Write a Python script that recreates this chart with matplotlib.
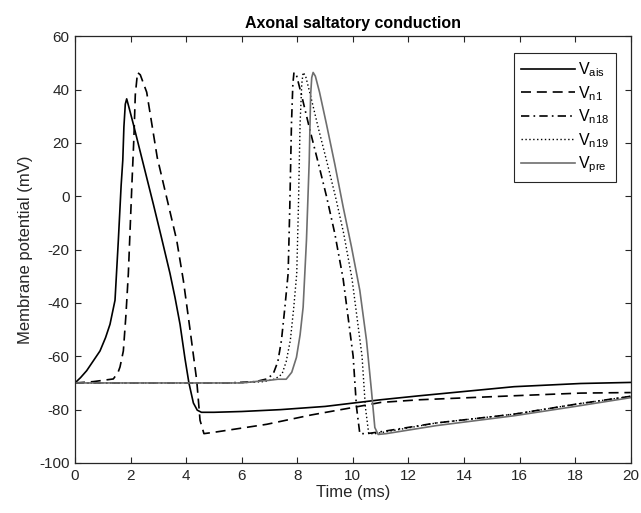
import matplotlib
matplotlib.use("Agg")
import matplotlib.pyplot as plt

plt.rcParams['font.family'] = ['Liberation Sans', 'DejaVu Sans']
plt.rcParams['mathtext.fontset'] = 'custom'
plt.rcParams['mathtext.rm'] = 'Liberation Sans'
plt.rcParams['mathtext.it'] = 'Liberation Sans'
plt.rcParams['axes.unicode_minus'] = False

# values (time in ms, potential in mV)
t_ais = [0, 0.2, 0.42, 0.66, 0.9, 1.1, 1.26, 1.44, 1.56, 1.66, 1.72, 1.76, 1.81, 1.86, 1.95,
         2.1, 2.34, 2.82, 3.1, 3.42, 3.6, 3.78, 3.96, 4.1, 4.26, 4.4, 4.55, 5.0, 6.0, 7.4,
         9.0, 11.0, 12.4, 14.0, 15.8, 18.2, 20]
v_ais = [-70, -68, -65.4, -61.7, -58, -53, -48, -39, -16.5, 4, 13.5, 26, 34.5, 36.5, 33,
         27, 17, -3, -15, -29, -38, -48, -61, -70, -77.5, -80.2, -81, -81, -80.7, -80,
         -78.8, -76.3, -74.8, -73.2, -71.4, -70.2, -69.8]

t_n1 = [0, 0.66, 1.38, 1.55, 1.62, 1.74, 1.83, 1.92, 2.05, 2.12, 2.17, 2.25, 2.35, 2.58,
        2.96, 3.66, 3.9, 4.14, 4.38, 4.5, 4.64, 5.0, 6.9, 8.5, 10.0, 11.0, 12.4, 15.8, 18.2, 20]
v_n1 = [-70, -69.5, -68.5, -66, -64, -58, -45, -29, 5, 22, 38, 46.4, 45.5, 39, 14.5,
        -16.5, -31.6, -50, -69, -84, -89, -88.5, -85.5, -82, -79.2, -77.3, -76.3,
        -74.8, -73.8, -73.6]

t_n18 = [0, 5.5, 6.5, 6.9, 7.13, 7.3, 7.43, 7.55, 7.67, 7.73, 7.79, 7.84, 7.88, 7.98, 8.15,
         8.45, 8.79, 9.05, 9.35, 9.65, 10.01, 10.13, 10.25, 10.5, 11.0, 13.0, 15.8, 18.0, 20]
v_n18 = [-70, -70, -69.5, -68.5, -66.7, -62, -54, -42, -29, -4, 27, 42, 46.4, 45, 38,
         25, 11, 0, -14, -31, -60, -79, -89, -89, -88.3, -85, -81.7, -78, -75]

t_n19 = [0, 5.8, 6.8, 7.2, 7.45, 7.6, 7.75, 7.87, 7.98, 8.04, 8.1, 8.16, 8.21, 8.3, 8.47,
         8.77, 9.11, 9.37, 9.67, 9.97, 10.33, 10.45, 10.57, 10.8, 11.2, 13.0, 15.8, 18.0, 20]
v_n19 = [-70, -70, -69.5, -68.5, -66.7, -62, -54, -42, -29, -4, 27, 42, 46.4, 45, 38,
         25, 11, 0, -14, -31, -60, -79, -89, -89, -88.3, -85, -81.7, -78, -75]

t_pre = [0, 6.0, 6.65, 7.0, 7.3, 7.6, 7.8, 7.97, 8.1, 8.21, 8.33, 8.43, 8.48, 8.52, 8.57,
         8.65, 8.8, 9.05, 9.35, 9.65, 9.95, 10.25, 10.49, 10.67, 10.79, 10.91, 11.2,
         13.0, 15.8, 18.0, 20]
v_pre = [-70, -70, -69.3, -69, -68.6, -68.6, -66, -60.4, -52, -41.6, -16.5, 13.5, 38, 44.5,
         46.4, 45, 39, 27, 12, -4, -19, -35.3, -54, -73, -86.7, -89.3, -89, -86,
         -82.3, -78.8, -75.5]

labels = [r'$\mathrm{V}_{\mathrm{ais}}$', r'$\mathrm{V}_{\mathrm{n1}}$',
          r'$\mathrm{V}_{\mathrm{n18}}$', r'$\mathrm{V}_{\mathrm{n19}}$',
          r'$\mathrm{V}_{\mathrm{pre}}$']

axc = '#262626'
fig = plt.figure(figsize=(6.41, 5.13), dpi=100)
ax = fig.add_axes([0.117, 0.0975, 0.867, 0.832])

ax.plot(t_ais, v_ais, color='black', lw=1.2, label=labels[0])
ax.plot(t_n1, v_n1, color='black', lw=1.2, dashes=(6, 3.5), label=labels[1])
ax.plot(t_n18, v_n18, color='black', lw=1.2, dashes=(5, 2.5, 1, 2.5), label=labels[2])
ax.plot(t_n19, v_n19, color='black', lw=1.0, dashes=(1, 1.8), label=labels[3])
ax.plot(t_pre, v_pre, color='#6e6e6e', lw=1.2, label=labels[4])

ax.set_xlim(0, 20)
ax.set_ylim(-100, 60)
ax.set_xticks(range(0, 21, 2))
ax.set_yticks(range(-100, 61, 20))
ax.tick_params(direction='in', top=True, right=True, length=4, width=0.8,
               colors=axc, labelsize=11, pad=4)
for s in ax.spines.values():
    s.set_color(axc)
    s.set_linewidth(0.9)

ax.set_xlabel('Time (ms)', fontsize=12, color=axc, labelpad=2)
ax.set_ylabel('Membrane potential (mV)', fontsize=12, color=axc, labelpad=4)
ax.set_title('Axonal saltatory conduction', fontsize=11.5, fontweight='bold', pad=6)

leg = ax.legend(loc='upper right', bbox_to_anchor=(0.973, 0.96), fancybox=False,
                framealpha=1, edgecolor=axc, fontsize=11.5, handlelength=3.4,
                handletextpad=0.15, labelspacing=0.3, borderpad=0.45, borderaxespad=0)
leg.get_frame().set_linewidth(0.8)

fig.savefig('out.png', dpi=100)
